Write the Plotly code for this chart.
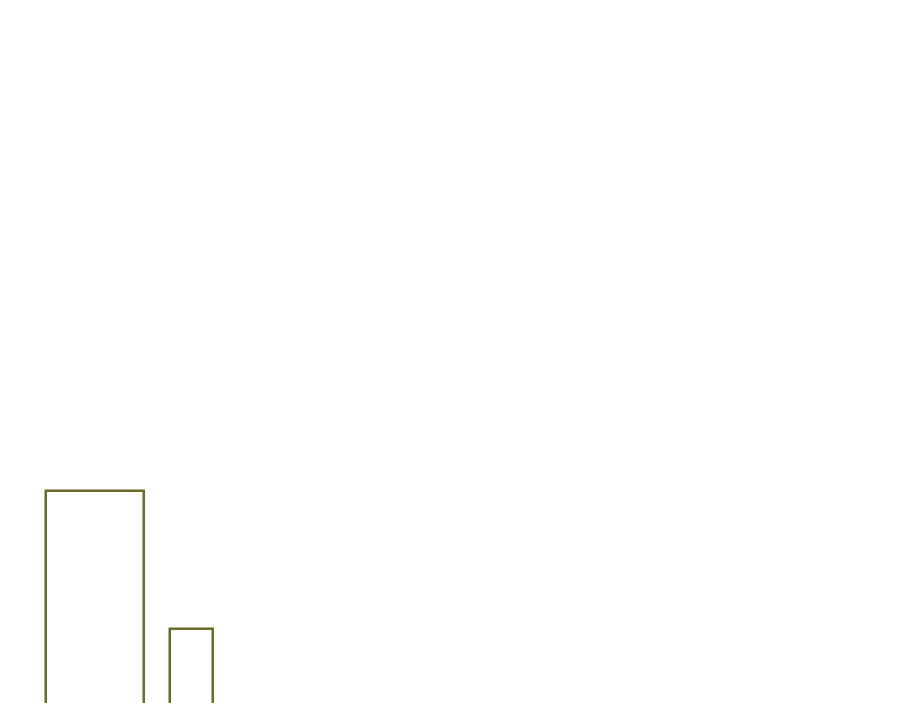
import plotly.graph_objects as go

# two outlined columns, cropped at the bottom of the page
categories = ['A', 'B']
values = [34.7, 16.1]
bar_widths = [1.01, 0.435]

fig = go.Figure()
fig.add_trace(go.Bar(
    x=categories,
    y=values,
    width=bar_widths,
    marker=dict(color='rgba(0,0,0,0)', line=dict(color='#6b6b2b', width=2.5)),
    showlegend=False,
    hoverinfo='skip',
))

fig.update_layout(
    width=900,
    height=703,
    margin=dict(l=0, r=0, t=0, b=0),
    paper_bgcolor='white',
    plot_bgcolor='white',
    xaxis=dict(visible=False, range=[-0.892, 8.386]),
    yaxis=dict(visible=False, range=[5, 100]),
    bargap=0,
)

fig.write_html("out.html")
